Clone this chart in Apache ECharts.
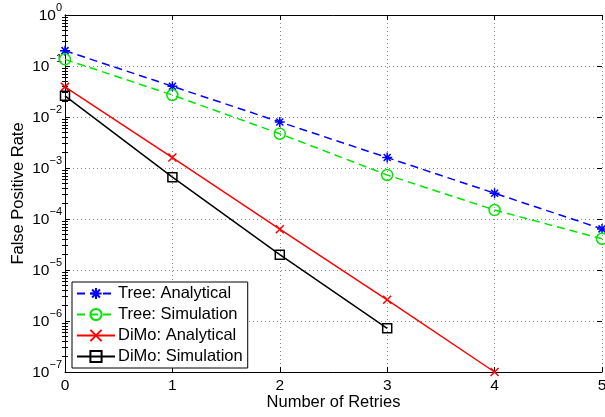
<!DOCTYPE html>
<html>
<head>
<meta charset="utf-8">
<script src="https://cdn.jsdelivr.net/npm/echarts@6/dist/echarts.min.js"></script>
<style>
  html, body { margin: 0; padding: 0; background: #fff; }
  #chart { width: 605px; height: 417px; }
</style>
</head>
<body>
<div id="chart"></div>
<script>
const retries = [0, 1, 2, 3, 4, 5]
const treeAnalytical = [0.2, 0.04, 0.008, 0.0016, 3.2e-4, 6.4e-5]
const treeSimulation = [0.135, 0.027, 0.0047, 7.3e-4, 1.5e-4, 4.1e-5]
const dimoAnalytical = [0.039, 0.0016, 6.3e-5, 2.6e-6, 1.0e-7]
const dimoSimulation = [0.026, 6.6e-4, 2.0e-5, 7.2e-7]

const font = 'Liberation Sans, Arial, Helvetica, sans-serif'

// minor tick values for the log axis (2..9 x 10^d)
const minorTicks = []
for (let d = -7; d < 0; d++) {
  for (let k = 2; k <= 9; k++) minorTicks.push(Number((k * Math.pow(10, d)).toPrecision(3)))
}

const pair = (ys) => ys.map((y, i) => [retries[i], y])

const asterisk = 'path://M5,0L5,10M0,5L10,5M1.5,1.5L8.5,8.5M8.5,1.5L1.5,8.5'
const cross = 'path://M0,0L10,10M10,0L0,10'
const square = 'path://M0,0L10,0L10,10L0,10Z'

const chart = echarts.init(document.getElementById('chart'))

const mkSeries = (name, data, color, type, symbol, size) => ({
  name,
  type: 'line',
  data: pair(data),
  xAxisIndex: 0,
  yAxisIndex: 0,
  symbol,
  symbolSize: size,
  showAllSymbol: true,
  lineStyle: { color, width: 1.5, type },
  itemStyle: { color: 'transparent', borderColor: color, borderWidth: 1.5 },
  emphasis: { disabled: true },
  z: 3
})

const majorTick = { inside: true, length: 5, lineStyle: { color: '#000', width: 1 } }
const minorTick = { inside: true, length: 3, customValues: minorTicks, lineStyle: { color: '#000', width: 1 } }
const gridDots = { show: true, lineStyle: { color: '#888', type: [1, 3] } }

// helper log axis that only draws ticks / split lines
const logHelper = (position, tick, split) => ({
  type: 'log', logBase: 10, position, min: 1e-7, max: 1, splitNumber: 7,
  axisLine: { show: false },
  axisTick: tick,
  axisLabel: { show: false },
  splitLine: split
})

const option = {
  animation: false,
  grid: { left: 65, right: 3, top: 15, bottom: 45, outerBoundsMode: 'none', containLabel: false },
  legend: {
    orient: 'vertical',
    left: 72,
    top: 282,
    padding: [3, 5, 3, 4],
    itemGap: 4,
    itemWidth: 38,
    itemHeight: 14,
    borderColor: '#000',
    borderWidth: 1,
    borderRadius: 0,
    backgroundColor: '#fff',
    textStyle: { fontFamily: font, fontSize: 16.5, lineHeight: 16, color: '#000', padding: [0, 0, 0, -2] },
    data: ['Tree: Analytical', 'Tree: Simulation', 'DiMo: Analytical', 'DiMo: Simulation']
  },
  xAxis: [
    {
      type: 'value', position: 'bottom', min: 0, max: 5, interval: 1,
      name: 'Number of Retries', nameLocation: 'middle', nameGap: 22, nameMoveOverlap: false,
      nameTextStyle: { fontFamily: font, fontSize: 16.5, color: '#000' },
      axisLine: { lineStyle: { color: '#000', width: 1 } },
      axisTick: majorTick,
      axisLabel: { fontFamily: font, fontSize: 15.5, color: '#000', margin: 6 },
      splitLine: gridDots
    },
    {
      type: 'value', position: 'top', min: 0, max: 5, interval: 1,
      axisLine: { lineStyle: { color: '#000', width: 1 } },
      axisTick: majorTick,
      axisLabel: { show: false },
      splitLine: { show: false }
    }
  ],
  yAxis: [
    {
      type: 'log', logBase: 10, position: 'left', min: 1e-7, max: 1, splitNumber: 7,
      name: 'False Positive Rate', nameLocation: 'middle', nameGap: 38, nameRotate: 90, nameMoveOverlap: false,
      nameTextStyle: { fontFamily: font, fontSize: 16.5, color: '#000' },
      axisLine: { lineStyle: { color: '#000', width: 1 } },
      axisTick: minorTick,
      axisLabel: {
        margin: 3,
        padding: [0, 0, 4, 0],
        formatter: (v) => {
          const e = Math.round(Math.log10(v))
          return '{b|10}{e|' + (e < 0 ? '\u2212' + (-e) : e) + '}'
        },
        rich: {
          b: { fontFamily: font, fontSize: 15.5, color: '#000', lineHeight: 22, verticalAlign: 'bottom' },
          e: { fontFamily: font, fontSize: 11, color: '#000', lineHeight: 12, verticalAlign: 'top' }
        }
      },
      splitLine: { show: false }
    },
    {
      type: 'log', logBase: 10, position: 'right', min: 1e-7, max: 1, splitNumber: 7,
      axisLine: { lineStyle: { color: '#000', width: 1 } },
      axisTick: minorTick,
      axisLabel: { show: false },
      splitLine: { show: false }
    },
    logHelper('left', majorTick, gridDots),
    logHelper('right', majorTick, { show: false })
  ],
  series: [
    mkSeries('Tree: Analytical', treeAnalytical, '#0000ff', [8, 5], asterisk, 10),
    mkSeries('Tree: Simulation', treeSimulation, '#00e600', [8, 5], 'circle', 11),
    mkSeries('DiMo: Analytical', dimoAnalytical, '#ff0000', 'solid', cross, 8),
    mkSeries('DiMo: Simulation', dimoSimulation, '#000000', 'solid', square, 9)
  ]
}

chart.setOption(option)
</script>
</body>
</html>
